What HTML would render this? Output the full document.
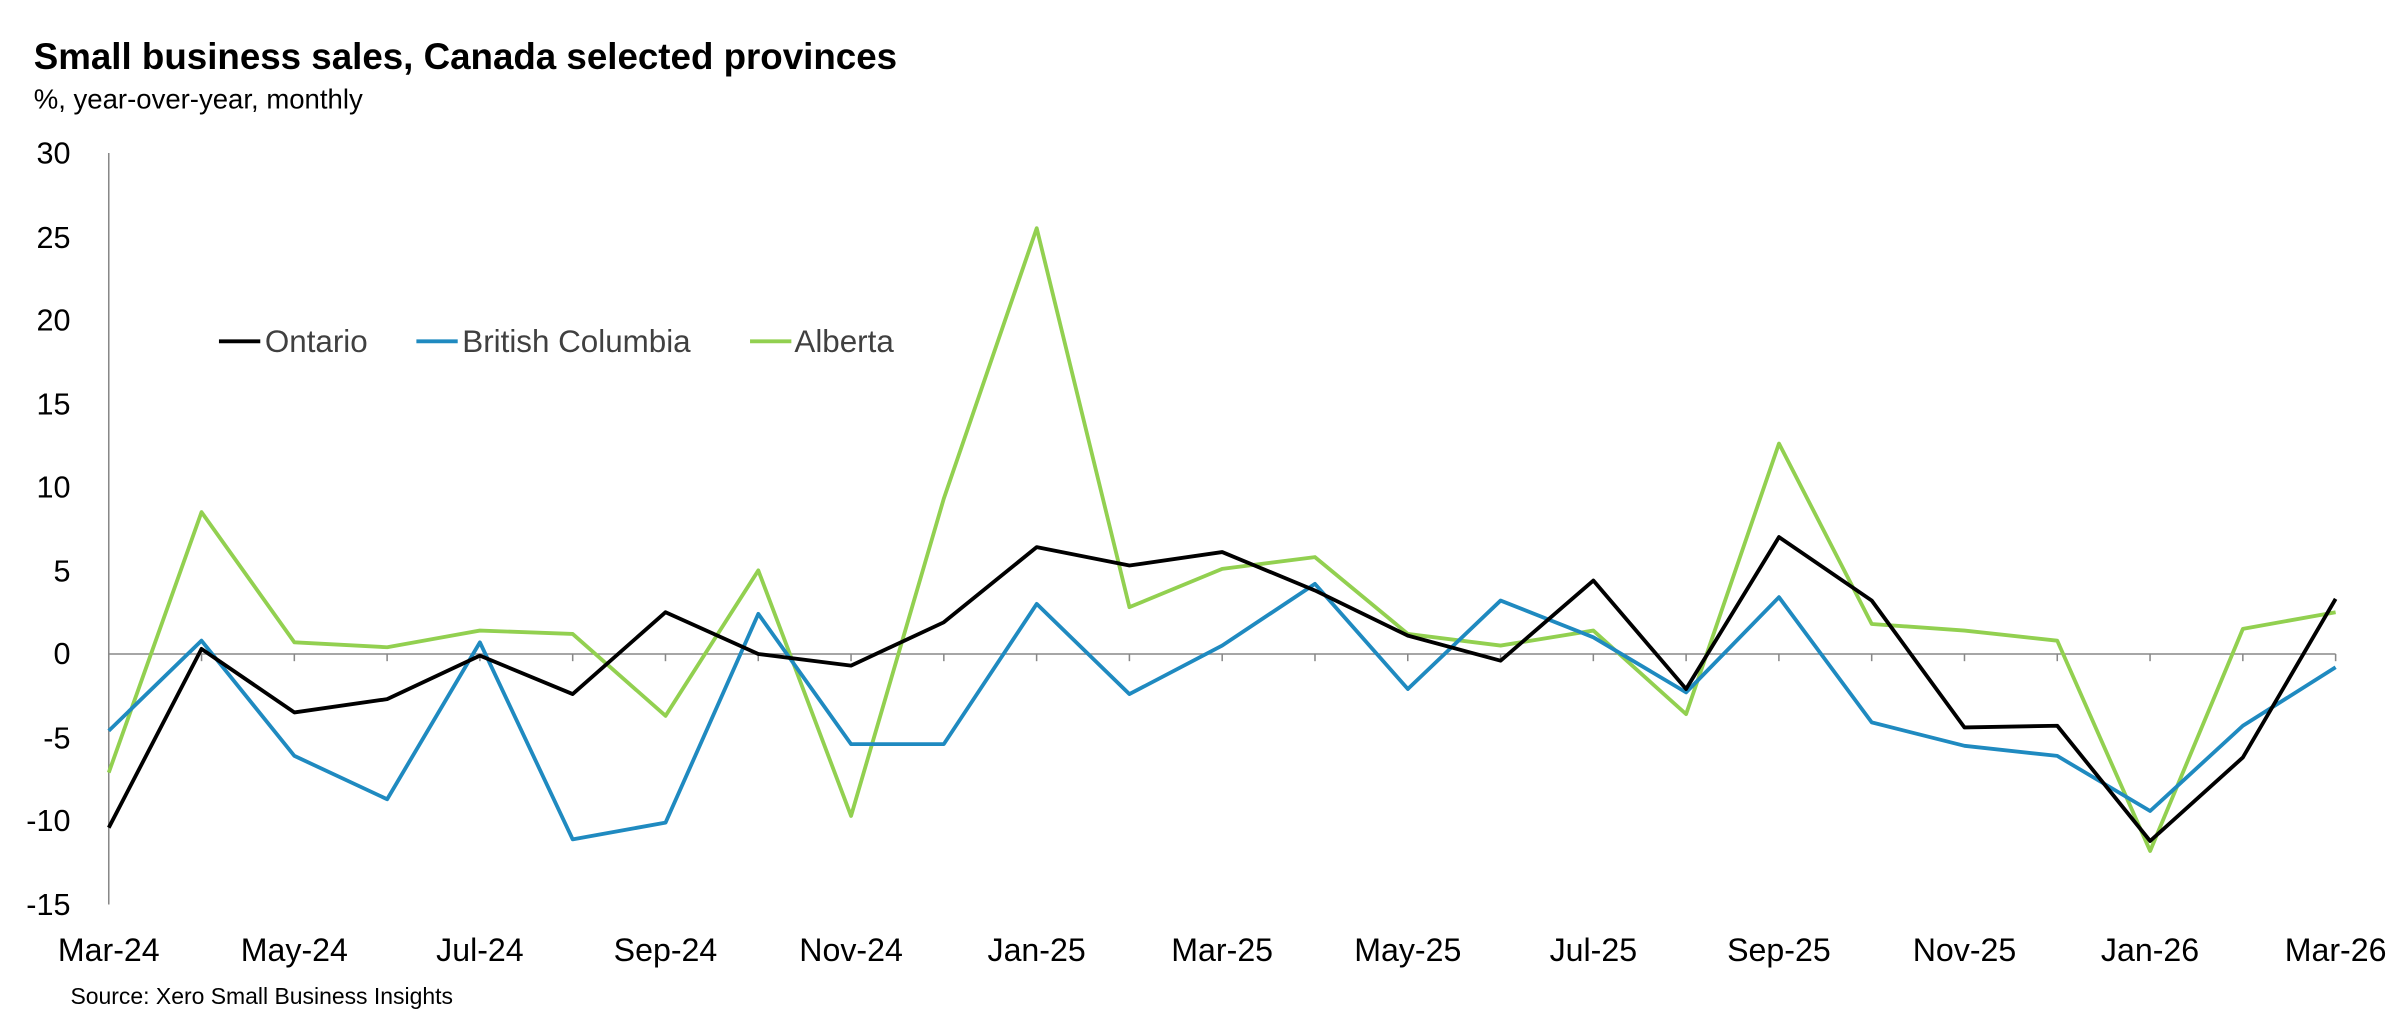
<!DOCTYPE html>
<html><head><meta charset="utf-8"><style>
html,body{margin:0;padding:0;background:#fff;overflow:hidden;}
svg{display:block;}
svg text{font-family:"Liberation Sans",sans-serif;}
</style></head><body>
<svg width="2400" height="1034" viewBox="0 0 1568 675.6" xmlns="http://www.w3.org/2000/svg">
<text x="22" y="45" font-size="24" font-weight="bold" fill="#000">Small business sales, Canada selected provinces</text>
<text x="22" y="71" font-size="18" fill="#000">%, year-over-year, monthly</text>
<g font-size="20" fill="#000" text-anchor="end">
<text x="46" y="107">30</text><text x="46" y="162">25</text><text x="46" y="216">20</text>
<text x="46" y="271">15</text><text x="46" y="325">10</text><text x="46" y="380">5</text>
<text x="46" y="434">0</text><text x="46" y="489">-5</text><text x="46" y="543">-10</text>
<text x="46" y="598">-15</text>
</g>
<line x1="71" y1="100" x2="71" y2="591" stroke="#888" stroke-width="1"/>
<line x1="71" y1="427.3" x2="1526" y2="427.3" stroke="#888" stroke-width="1"/>
<g id="ticks" stroke="#888" stroke-width="1"></g>
<g font-size="21" fill="#000" text-anchor="middle" id="xl"></g>
<text x="46" y="656" font-size="15" fill="#000">Source: Xero Small Business Insights</text>
<g font-size="20.5" fill="#404040">
<line x1="143" y1="223" x2="170" y2="223" stroke="#000" stroke-width="2.5"/><text x="173" y="230">Ontario</text>
<line x1="272" y1="223" x2="299" y2="223" stroke="#1f8ac0" stroke-width="2.5"/><text x="302" y="230">British Columbia</text>
<line x1="490" y1="223" x2="517" y2="223" stroke="#92d050" stroke-width="2.5"/><text x="519" y="230">Alberta</text>
</g>
<polyline id="al" fill="none" stroke="#92d050" stroke-width="2.5" stroke-linejoin="round"/>
<polyline id="bc" fill="none" stroke="#1f8ac0" stroke-width="2.5" stroke-linejoin="round"/>
<polyline id="on" fill="none" stroke="#000" stroke-width="2.5" stroke-linejoin="round"/>
</svg>
<script>
var X=i=>71+i*60.625, Y=v=>427.3-v*10.911;
var on=[-10.4,0.3,-3.5,-2.7,-0.1,-2.4,2.5,0,-0.7,1.9,6.4,5.3,6.1,3.8,1.1,-0.4,4.4,-2.1,7.0,3.2,-4.4,-4.3,-11.2,-6.2,3.3];
var bc=[-4.6,0.8,-6.1,-8.7,0.7,-11.1,-10.1,2.4,-5.4,-5.4,3.0,-2.4,0.5,4.2,-2.1,3.2,1.0,-2.3,3.4,-4.1,-5.5,-6.1,-9.4,-4.3,-0.8];
var al=[-7.1,8.5,0.7,0.4,1.4,1.2,-3.7,5.0,-9.7,9.3,25.5,2.8,5.1,5.8,1.2,0.5,1.4,-3.6,12.6,1.8,1.4,0.8,-11.8,1.5,2.5];
function p(a){return a.map((v,i)=>X(i).toFixed(1)+","+Y(v).toFixed(1)).join(" ");}
document.getElementById("on").setAttribute("points",p(on));
document.getElementById("bc").setAttribute("points",p(bc));
document.getElementById("al").setAttribute("points",p(al));
var NS="http://www.w3.org/2000/svg",t=document.getElementById("ticks"),xl=document.getElementById("xl");
var labs=["Mar-24","May-24","Jul-24","Sep-24","Nov-24","Jan-25","Mar-25","May-25","Jul-25","Sep-25","Nov-25","Jan-26","Mar-26"];
for(var i=0;i<=24;i++){var l=document.createElementNS(NS,"line");l.setAttribute("x1",X(i));l.setAttribute("x2",X(i));l.setAttribute("y1",427.3);l.setAttribute("y2",432);t.appendChild(l);}
labs.forEach((s,k)=>{var e=document.createElementNS(NS,"text");e.setAttribute("x",X(k*2));e.setAttribute("y",628);e.textContent=s;xl.appendChild(e);});
</script>
</body></html>
